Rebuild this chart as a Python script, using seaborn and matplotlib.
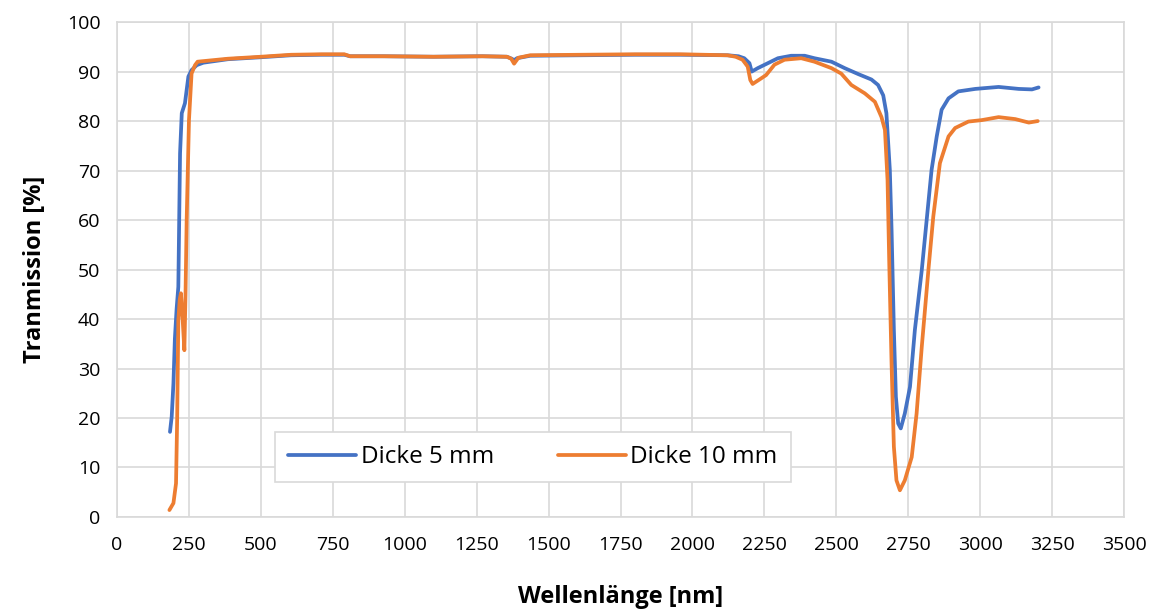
import matplotlib
matplotlib.use("Agg")
import matplotlib.pyplot as plt
import seaborn as sns
import pandas as pd

# Transmissionsspektren
wl_5mm = [184, 190, 196, 201, 207, 213, 219, 225, 236, 248, 259, 277, 300, 385, 500, 605,
          710, 790, 810, 926, 1100, 1270, 1355, 1372, 1380, 1390, 1436, 1610, 1800, 1959,
          2122, 2160, 2180, 2198, 2206, 2227, 2262, 2297, 2343, 2390, 2424, 2483, 2529,
          2576, 2622, 2645, 2663, 2674, 2686, 2692, 2700, 2707, 2715, 2724, 2738, 2756,
          2773, 2797, 2814, 2831, 2849, 2866, 2890, 2924, 2983, 3064, 3134, 3180, 3203]
t_5mm = [17.2, 20.3, 27.0, 36.0, 42.0, 46.5, 73.5, 81.6, 83.6, 89.0, 90.3, 91.3, 91.8, 92.5,
         92.9, 93.3, 93.4, 93.4, 93.1, 93.1, 93.0, 93.1, 93.0, 92.6, 92.3, 92.7, 93.2, 93.3,
         93.4, 93.4, 93.3, 93.1, 92.7, 91.7, 90.0, 90.7, 91.7, 92.7, 93.2, 93.2, 92.7, 92.0,
         90.7, 89.5, 88.4, 87.3, 85.2, 81.6, 70.1, 58.0, 37.8, 24.3, 18.9, 17.9, 20.9, 26.3,
         37.8, 49.9, 60.0, 70.1, 76.9, 82.3, 84.6, 86.0, 86.5, 86.9, 86.5, 86.4, 86.8]

wl_10mm = [182, 196, 205, 209, 213, 218, 222, 228, 234, 238, 242, 250, 259, 271, 280, 385,
           500, 605, 710, 790, 810, 926, 1100, 1270, 1355, 1370, 1380, 1395, 1436, 1610,
           1800, 1959, 2122, 2150, 2174, 2192, 2201, 2209, 2238, 2256, 2285, 2320, 2378,
           2424, 2483, 2517, 2552, 2599, 2634, 2657, 2669, 2678, 2684, 2692, 2700, 2709,
           2721, 2738, 2762, 2779, 2797, 2820, 2837, 2860, 2890, 2913, 2959, 3006, 3064,
           3122, 3169, 3200]
t_10mm = [1.4, 2.8, 6.8, 20.0, 39.8, 44.0, 45.2, 40.0, 33.7, 45.0, 60.0, 80.2, 89.6, 91.3,
          92.0, 92.6, 93.0, 93.4, 93.5, 93.5, 93.1, 93.1, 93.0, 93.1, 93.0, 92.6, 91.6, 92.8,
          93.3, 93.4, 93.5, 93.5, 93.3, 93.0, 92.4, 91.0, 88.3, 87.5, 88.6, 89.3, 91.4, 92.4,
          92.7, 92.0, 90.7, 89.6, 87.3, 85.6, 83.9, 80.8, 78.2, 68.1, 51.2, 31.0, 14.2, 7.4,
          5.4, 7.4, 12.1, 20.9, 34.4, 49.9, 60.7, 71.5, 76.9, 78.6, 79.9, 80.2, 80.8, 80.4,
          79.7, 80.0]

labels = ["Dicke 5 mm", "Dicke 10 mm"]
colors = ["#4472C4", "#ED7D31"]

df = pd.concat([
    pd.DataFrame({"wl": wl_5mm, "T": t_5mm, "Probe": labels[0]}),
    pd.DataFrame({"wl": wl_10mm, "T": t_10mm, "Probe": labels[1]}),
])

sns.set_style("white")
plt.rcParams["font.family"] = ["Open Sans", "DejaVu Sans"]
plt.rcParams["text.color"] = "black"

fig = plt.figure(figsize=(11.6, 6.14), dpi=100)
ax = fig.add_axes([0.1009, 0.158, 0.8681, 0.806])

sns.lineplot(data=df, x="wl", y="T", hue="Probe", palette=colors, sort=False,
             linewidth=2.7, ax=ax)

ax.set_xlim(0, 3500)
ax.set_ylim(0, 100)
ax.set_xticks(range(0, 3501, 250))
ax.set_yticks(range(0, 101, 10))
ax.grid(True, color="#d9d9d9", linewidth=1.2)
ax.set_axisbelow(True)
for s in ax.spines.values():
    s.set_color("#d9d9d9")
    s.set_linewidth(1.2)
ax.tick_params(axis="both", length=0, labelsize=14, labelcolor="black")
ax.tick_params(axis="x", pad=14)
ax.tick_params(axis="y", pad=12)

ax.set_xlabel("Wellenlänge [nm]", fontsize=17, fontweight="bold", labelpad=22, color="black")
ax.set_ylabel("Tranmission [%]", fontsize=17, fontweight="bold", labelpad=14, color="black")

leg = ax.legend(loc="center", bbox_to_anchor=(0.413, 0.121), ncol=2, fontsize=17.5,
                frameon=True, fancybox=False, handlelength=2.8, columnspacing=2.6,
                borderpad=0.55, handletextpad=0.2, borderaxespad=0)
leg.get_frame().set_edgecolor("#d9d9d9")
leg.get_frame().set_linewidth(1.2)
leg.get_frame().set_alpha(1)

fig.savefig("out.png", dpi=100)
